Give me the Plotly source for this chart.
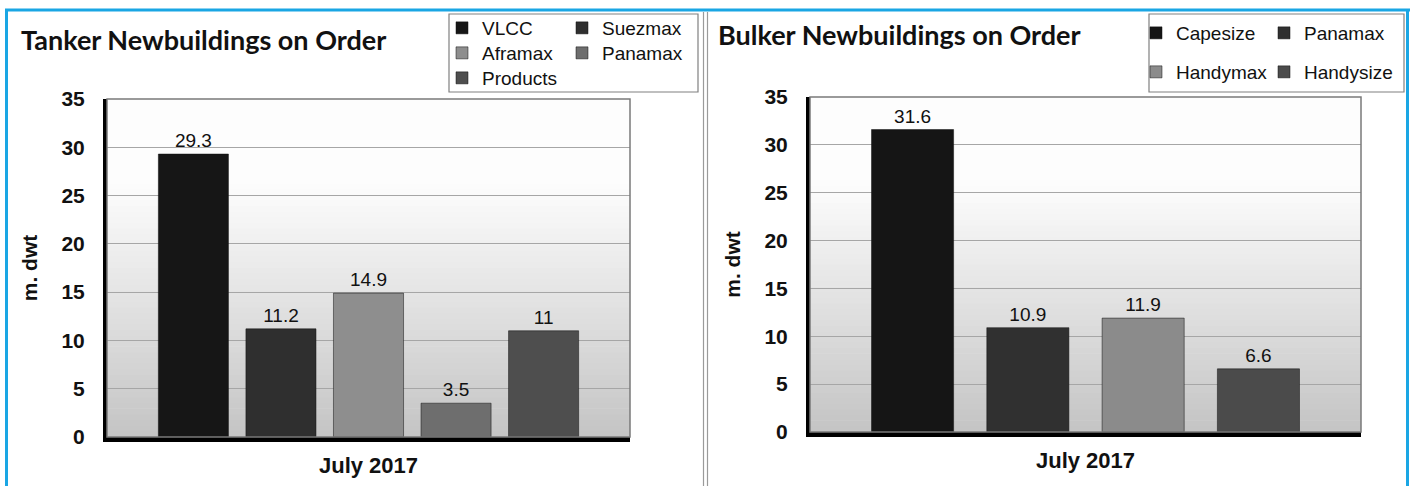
import plotly.graph_objects as go

W, H = 1413, 486

# ---------------- data ----------------
period = ["July 2017"]
tanker_types = ["VLCC", "Suezmax", "Aframax", "Panamax", "Products"]
tanker_values = [29.3, 11.2, 14.9, 3.5, 11]
tanker_colors = ["#161616", "#2f2f2f", "#8e8e8e", "#6e6e6e", "#4e4e4e"]

bulker_types = ["Capesize", "Panamax", "Handymax", "Handysize"]
bulker_values = [31.6, 10.9, 11.9, 6.6]
bulker_colors = ["#151515", "#303030", "#8b8b8b", "#4b4b4b"]

y_ticks = [0, 5, 10, 15, 20, 25, 30, 35]

# legend entry placement (pixels from top-left), one legend per entry
tanker_legend_pos = [(442, 28), (562, 28), (442, 53), (562, 53), (442, 78)]
bulker_legend_pos = [(1136, 33), (1264, 33), (1136, 72), (1264, 72)]


def px_x(p):
    return p / W


def px_y(p):
    return 1 - p / H


def legend(xpix, ypix):
    return dict(orientation="v", x=px_x(xpix), y=px_y(ypix), xanchor="left", yanchor="middle",
                bgcolor="rgba(0,0,0,0)", borderwidth=0,
                font=dict(family="Arial", size=19, color="#111"), itemwidth=30,
                itemclick=False, itemdoubleclick=False)


fig = go.Figure()
legend_layout = {}
k = 0

for name, val, col, pos in zip(tanker_types, tanker_values, tanker_colors, tanker_legend_pos):
    k += 1
    lid = "legend" if k == 1 else f"legend{k}"
    legend_layout[lid] = legend(*pos)
    fig.add_trace(go.Bar(
        x=period, y=[val], name=name, marker=dict(color=col, line=dict(color="#111", width=0.5)),
        width=0.134, text=[val], texttemplate="%{y}", textposition="outside",
        textfont=dict(family="Arial", size=19, color="#111"), cliponaxis=False,
        xaxis="x", yaxis="y", legend=lid, hoverinfo="name+y"))

for name, val, col, pos in zip(bulker_types, bulker_values, bulker_colors, bulker_legend_pos):
    k += 1
    lid = f"legend{k}"
    legend_layout[lid] = legend(*pos)
    fig.add_trace(go.Bar(
        x=period, y=[val], name=name, marker=dict(color=col, line=dict(color="#111", width=0.5)),
        width=0.149, text=[val], texttemplate="%{y}", textposition="outside",
        textfont=dict(family="Arial", size=19, color="#111"), cliponaxis=False,
        xaxis="x2", yaxis="y2", legend=lid, hoverinfo="name+y"))

tick_font = dict(family="Arial", size=21, color="#111")
title_font = dict(family="Arial", size=21, color="#111")


def yaxis(domain, anchor):
    return dict(domain=domain, anchor=anchor, range=[0, 35], tickvals=y_ticks,
                showgrid=True, gridcolor="#a6a6a6", gridwidth=1,
                showline=True, linecolor="#000", linewidth=4,
                ticks="outside", ticklen=14, tickcolor="rgba(0,0,0,0)",
                tickfont=dict(tick_font, weight="bold"),
                title=dict(text="m. dwt", font=dict(title_font, weight="bold"), standoff=19),
                zeroline=False, fixedrange=True, automargin=False)


def xaxis(domain, anchor):
    return dict(domain=domain, anchor=anchor, type="category", range=[-0.5, 0.5],
                showline=True, linecolor="#000", linewidth=5, showgrid=False,
                ticks="outside", ticklen=5, tickcolor="rgba(0,0,0,0)",
                tickfont=dict(family="Arial", size=22, color="#111", weight="bold"),
                fixedrange=True, automargin=False)


tank_x = [px_x(107), px_x(630)]
tank_y = [px_y(437), px_y(99)]
bulk_x = [px_x(810), px_x(1361)]
bulk_y = [px_y(432), px_y(97)]

shapes = []
# gradient plot backgrounds
n_bands = 60
for xr, yr in (("x", "y"), ("x2", "y2")):
    for i in range(n_bands):
        f0 = i / n_bands
        f1 = (i + 1) / n_bands
        fm = (f0 + f1) / 2  # 0 bottom, 1 top
        if fm > 0.75:
            g = 253
        else:
            g = 196 + (253 - 196) * (fm / 0.75)
        g = int(round(g))
        shapes.append(dict(type="rect", xref=f"{xr} domain", yref=f"{yr} domain",
                           x0=0, x1=1, y0=f0, y1=f1 + 0.002, layer="below",
                           line=dict(width=0), fillcolor=f"rgb({g},{g},{g})"))
    # thin frame (top / right)
    shapes.append(dict(type="rect", xref=f"{xr} domain", yref=f"{yr} domain",
                       x0=0, x1=1, y0=0, y1=1, layer="above",
                       line=dict(color="#7a7a7a", width=1.5), fillcolor="rgba(0,0,0,0)"))

# legend boxes
shapes.append(dict(type="rect", xref="paper", yref="paper", x0=px_x(449), x1=px_x(698),
                   y0=px_y(92), y1=px_y(14), line=dict(color="#808080", width=1.2)))
shapes.append(dict(type="rect", xref="paper", yref="paper", x0=px_x(1149), x1=px_x(1404),
                   y0=px_y(92), y1=px_y(14), line=dict(color="#808080", width=1.2)))

# page frame: blue border and middle divider
blue = "#1aa6e4"
shapes.append(dict(type="line", xref="paper", yref="paper", x0=px_x(5), x1=px_x(1410),
                   y0=px_y(10), y1=px_y(10), line=dict(color=blue, width=3)))
shapes.append(dict(type="line", xref="paper", yref="paper", x0=px_x(6.5), x1=px_x(6.5),
                   y0=px_y(10), y1=0, line=dict(color=blue, width=3)))
shapes.append(dict(type="line", xref="paper", yref="paper", x0=px_x(1407.5), x1=px_x(1407.5),
                   y0=px_y(10), y1=0, line=dict(color=blue, width=3)))
for xp in (703.5, 707.5):
    shapes.append(dict(type="line", xref="paper", yref="paper", x0=px_x(xp), x1=px_x(xp),
                       y0=px_y(12), y1=0, line=dict(color="#9a9a9a", width=1.2)))

annotations = [
    dict(text="Tanker Newbuildings on Order", xref="paper", yref="paper",
         x=px_x(19), y=px_y(40), xanchor="left", yanchor="middle", showarrow=False,
         font=dict(family="Lato", size=27, color="#111", weight="bold")),
    dict(text="Bulker Newbuildings on Order", xref="paper", yref="paper",
         x=px_x(716), y=px_y(34), xanchor="left", yanchor="middle", showarrow=False,
         font=dict(family="Lato", size=27, color="#111", weight="bold")),
]

fig.update_layout(
    width=W, height=H, margin=dict(l=0, r=0, t=0, b=0, autoexpand=False),
    paper_bgcolor="white", plot_bgcolor="rgba(0,0,0,0)",
    barmode="group", bargap=0.163, bargroupgap=0,
    xaxis=xaxis(tank_x, "y"), yaxis=yaxis(tank_y, "x"),
    xaxis2=xaxis(bulk_x, "y2"), yaxis2=yaxis(bulk_y, "x2"),
    shapes=shapes, annotations=annotations,
    showlegend=True,
    **legend_layout,
)

fig.write_html(
    "out.html",
    config={"displayModeBar": False},
    post_script="document.body.style.margin='0';document.body.style.overflow='hidden';",
)
